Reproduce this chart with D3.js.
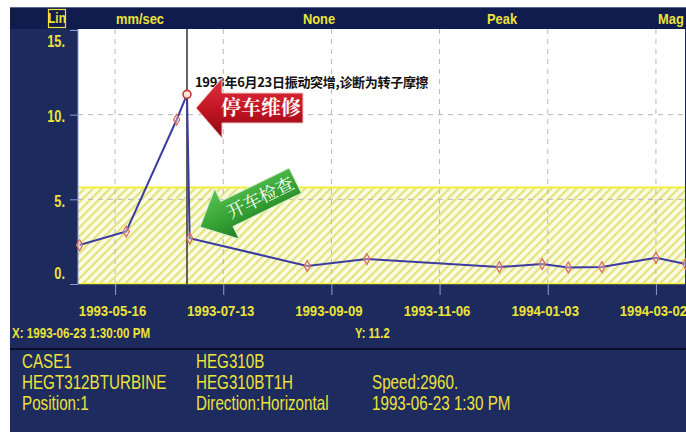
<!DOCTYPE html>
<html>
<head>
<meta charset="utf-8">
<script src="https://cdn.jsdelivr.net/npm/d3@7"></script>
<style>
  html, body { margin: 0; padding: 0; background: #ffffff; }
  svg { display: block; }
  .narrow { font-family: "Liberation Sans", Arial, sans-serif; }
</style>
</head>
<body>
<svg id="chart" width="686" height="432"></svg>
<script>
// trend data (mm/sec, peak)
const dates = ["1993-04-27", "1993-05-22", "1993-06-18", "1993-06-23 13:30", "1993-06-25",
  "1993-08-27", "1993-09-28", "1993-12-08", "1993-12-31", "1994-01-14", "1994-02-01",
  "1994-03-02", "1994-03-18"];
const values = [2.3, 3.1, 9.7, 11.2, 2.7, 1.07, 1.47, 1.0, 1.18, 0.98, 1.0, 1.55, 1.18];

const xTickLabels = ["1993-05-16", "1993-07-13", "1993-09-09", "1993-11-06", "1994-01-03", "1994-03-02"];
const yTicks = [0, 5, 10, 15];
const headerLabels = ["mm/sec", "None", "Peak", "Mag"];
const alarmLevel = 5.7;
const cursorDate = "1993-06-23 13:30";
const cursorText = ["X: 1993-06-23 1:30:00 PM", "Y: 11.2"];
const note = "1993年6月23日振动突增,诊断为转子摩擦";
const stopLabel = "停车维修";
const startLabel = "开车检查";
const infoCol1 = ["CASE1", "HEGT312BTURBINE", "Position:1"];
const infoCol2 = ["HEG310B", "HEG310BT1H", "Direction:Horizontal"];
const infoCol3 = ["", "Speed:2960.", "1993-06-23 1:30 PM"];

const parse = d3.timeParse("%Y-%m-%d");
const parseT = d3.timeParse("%Y-%m-%d %H:%M");
const toDate = s => s.length > 10 ? parseT(s) : parse(s);

const data = dates.map((d, i) => ({ date: toDate(d), value: values[i] }));

const svg = d3.select('#chart');
const plot = { left: 78, right: 685, top: 29, bottom: 284 };
const yellow = "#ece23a";

const x = d3.scaleTime()
  .domain([new Date(1993, 3, 26, 3), new Date(1994, 2, 17, 14)])
  .range([plot.left, plot.right]);
const y = d3.scaleLinear().domain([0, 15]).range([plot.bottom, 30]);

// condensed text: regular font squeezed sideways
function narrowText(parent, tx, ty, str, size, weight, sx, anchor) {
  return parent.append('text').attr('class', 'narrow')
    .attr('transform', `translate(${tx},${ty}) scale(${sx},1)`)
    .attr('text-anchor', anchor || 'start')
    .attr('fill', yellow).attr('font-size', size).attr('font-weight', weight)
    .text(str);
}

// defs: hatch + arrow gradients
const defs = svg.append('defs');
const hatch = defs.append('pattern')
  .attr('id', 'hatch').attr('patternUnits', 'userSpaceOnUse')
  .attr('width', 6).attr('height', 6).attr('patternTransform', 'rotate(45)');
hatch.append('rect').attr('width', 6).attr('height', 6).attr('fill', '#fbfbe4');
hatch.append('line').attr('x1', 1).attr('x2', 1).attr('y1', 0).attr('y2', 6)
  .attr('stroke', '#e2e27e').attr('stroke-width', 2.4);

const redGrad = defs.append('linearGradient').attr('id', 'redGrad')
  .attr('x1', 0).attr('x2', 0).attr('y1', 0).attr('y2', 1);
redGrad.append('stop').attr('offset', '0%').attr('stop-color', '#e0303c');
redGrad.append('stop').attr('offset', '55%').attr('stop-color', '#c01422');
redGrad.append('stop').attr('offset', '100%').attr('stop-color', '#8c0814');

const greenGrad = defs.append('linearGradient').attr('id', 'greenGrad')
  .attr('x1', 0).attr('x2', 0).attr('y1', 0).attr('y2', 1);
greenGrad.append('stop').attr('offset', '0%').attr('stop-color', '#5cc450');
greenGrad.append('stop').attr('offset', '60%').attr('stop-color', '#34a034');
greenGrad.append('stop').attr('offset', '100%').attr('stop-color', '#1f7a24');

// panels
svg.append('rect').attr('x', 10).attr('y', 7).attr('width', 676).attr('height', 425).attr('fill', '#1c2a5d');
svg.append('rect').attr('x', 10).attr('y', 7).attr('width', 676).attr('height', 22).attr('fill', '#111c4e');
svg.append('line').attr('x1', 10).attr('x2', 686).attr('y1', 7.5).attr('y2', 7.5).attr('stroke', '#5a6690');
svg.append('rect').attr('x', 10).attr('y', 350).attr('width', 676).attr('height', 82).attr('fill', '#1e2b5e');
svg.append('line').attr('x1', 10).attr('x2', 686).attr('y1', 349).attr('y2', 349)
  .attr('stroke', '#080d2a').attr('stroke-width', 2);

// plot area
svg.append('rect').attr('x', plot.left).attr('y', plot.top)
  .attr('width', plot.right - plot.left).attr('height', plot.bottom - plot.top).attr('fill', '#ffffff');

svg.append('rect').attr('x', plot.left).attr('y', y(alarmLevel))
  .attr('width', plot.right - plot.left).attr('height', plot.bottom - y(alarmLevel))
  .attr('fill', 'url(#hatch)');

// grid
const xTicks = xTickLabels.map(parse);
svg.append('g').selectAll('line').data(xTicks).join('line')
  .attr('x1', d => x(d)).attr('x2', d => x(d))
  .attr('y1', plot.top).attr('y2', plot.bottom)
  .attr('stroke', '#b8b8b8').attr('stroke-dasharray', '5,5');
svg.append('g').selectAll('line').data([5, 10]).join('line')
  .attr('x1', plot.left).attr('x2', plot.right)
  .attr('y1', d => y(d)).attr('y2', d => y(d))
  .attr('stroke', '#b8b8b8').attr('stroke-dasharray', '5,5');

svg.append('line').attr('x1', plot.left).attr('x2', plot.right)
  .attr('y1', y(alarmLevel)).attr('y2', y(alarmLevel))
  .attr('stroke', '#f2ee3c').attr('stroke-width', 2);
svg.append('line').attr('x1', plot.left).attr('x2', plot.right)
  .attr('y1', plot.bottom - 0.5).attr('y2', plot.bottom - 0.5)
  .attr('stroke', '#f2ee3c').attr('stroke-width', 1.5);

// axes
const xAxis = d3.axisBottom(x).tickValues(xTicks).tickFormat(d3.timeFormat("%Y-%m-%d"))
  .tickSize(11).tickPadding(18);
const gx = svg.append('g').attr('transform', `translate(0,${plot.bottom})`).call(xAxis);
gx.select('.domain').remove();
gx.selectAll('line').attr('stroke', '#8c9ad8');
gx.selectAll('text').attr('class', 'narrow').attr('fill', yellow)
  .attr('font-size', 15).attr('font-weight', 'bold').attr('dy', '0.2em')
  .attr('transform', 'translate(-3,0) scale(0.88,1)');

const yAxis = d3.axisLeft(y).tickValues(yTicks).tickFormat(d => d + '.').tickSize(8).tickPadding(4);
const gy = svg.append('g').attr('transform', `translate(${plot.left},0)`).call(yAxis);
gy.select('.domain').attr('stroke', '#8c9ad8').attr('d', `M0,${plot.top}V${plot.bottom}`);
gy.selectAll('line').attr('stroke', '#8c9ad8');
gy.selectAll('text').attr('class', 'narrow').attr('fill', yellow)
  .attr('font-size', 16).attr('font-weight', 'bold')
  .attr('x', -13 / 0.8)
  .attr('transform', 'scale(0.8,1)')
  .attr('y', d => Math.max(41, Math.min(273, y(d) + 2)) - y(d));

// header
const headerX = [140, 319, 502, 671];
svg.append('rect').attr('x', 48.5).attr('y', 9.5).attr('width', 17).attr('height', 18)
  .attr('fill', 'none').attr('stroke', yellow).attr('stroke-width', 1.2);
narrowText(svg, 57, 23, 'Lin', 14, 'bold', 0.85, 'middle');
headerLabels.forEach((d, i) => narrowText(svg, headerX[i], 24, d, 15, 'bold', 0.86, 'middle'));

// cursor
const cx = x(toDate(cursorDate));
svg.append('line').attr('x1', cx).attr('x2', cx).attr('y1', plot.top).attr('y2', plot.bottom)
  .attr('stroke', '#333333').attr('stroke-width', 1.5);

// trend line
const line = d3.line().x(d => x(d.date)).y(d => y(d.value));
svg.append('path').datum(data).attr('d', line)
  .attr('fill', 'none').attr('stroke', '#3c3ca0').attr('stroke-width', 2);

svg.append('g').selectAll('path').data(data.filter(d => d.value !== 11.2)).join('path')
  .attr('transform', d => `translate(${x(d.date)},${y(d.value)})`)
  .attr('d', d3.symbol(d3.symbolDiamond).size(34))
  .attr('fill', '#f2dede').attr('fill-opacity', 0.4)
  .attr('stroke', '#d86a5a').attr('stroke-width', 1.2);

const peak = data.find(d => d.value === 11.2);
svg.append('circle').attr('cx', x(peak.date)).attr('cy', y(peak.value)).attr('r', 4)
  .attr('fill', '#f6e6dc').attr('stroke', '#c83a30').attr('stroke-width', 1.6);

// note text
svg.append('text').attr('x', 195).attr('y', 87)
  .attr('font-family', '"Noto Sans CJK SC", sans-serif').attr('font-size', 13)
  .attr('font-weight', 'bold').attr('fill', '#111111').attr('letter-spacing', -0.3).text(note);

// red arrow (points left)
const redArrow = svg.append('g').attr('transform', 'translate(196,108)');
redArrow.append('path')
  .attr('d', 'M0,0 L26,-30 L26,-15 L107,-15 L107,15 L26,15 L26,30 Z')
  .attr('fill', 'url(#redGrad)').attr('stroke', '#f2c8c8').attr('stroke-width', 1);
redArrow.append('text').attr('x', 65).attr('y', 7).attr('text-anchor', 'middle')
  .attr('font-family', '"Noto Serif CJK SC", "Noto Sans CJK SC", sans-serif')
  .attr('font-size', 20).attr('font-weight', 'bold').attr('fill', '#ffffff').text(stopLabel);

// green arrow (points down-left)
const greenArrow = svg.append('g').attr('transform', 'translate(200,227) rotate(-26)');
greenArrow.append('path')
  .attr('d', 'M0,0 L30,-28 L30,-14 L106,-14 L106,14 L30,14 L30,28 Z')
  .attr('fill', 'url(#greenGrad)').attr('stroke', '#d8f0d0').attr('stroke-width', 1);
greenArrow.append('text').attr('x', 67).attr('y', 6.5).attr('text-anchor', 'middle')
  .attr('font-family', '"Noto Serif CJK SC", "Noto Sans CJK SC", sans-serif')
  .attr('font-size', 18).attr('fill', '#ffffff').text(startLabel);

// cursor readout
narrowText(svg, 12, 338, cursorText[0], 14, 'bold', 0.83);
narrowText(svg, 355, 338, cursorText[1], 14, 'bold', 0.8);

// info block
const infoX = [22, 196, 372];
[infoCol1, infoCol2, infoCol3].forEach((col, c) => {
  col.forEach((d, i) => narrowText(svg, infoX[c], 368 + i * 21, d, 20, 'normal', 0.76));
});
</script>
</body>
</html>
